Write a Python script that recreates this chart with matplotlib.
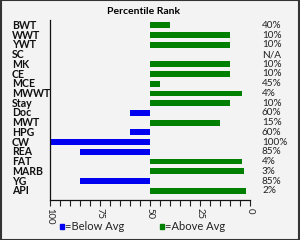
import matplotlib
matplotlib.use("Agg")
import matplotlib.pyplot as plt
from matplotlib.patches import Rectangle
from matplotlib.ticker import MultipleLocator

plt.rcParams["font.family"] = ["Lato", "DejaVu Sans"]

traits = ["BWT", "WWT", "YWT", "SC", "MK", "CE", "MCE", "MWWT", "Stay",
          "Doc", "MWT", "HPG", "CW", "REA", "FAT", "MARB", "YG", "API"]
ranks = [40, 10, 10, None, 10, 10, 45, 4, 10,
         60, 15, 60, 100, 85, 4, 3, 85, 2]
rank_labels = ["40%", "10%", "10%", "N/A", "10%", "10%", "45%", "4%", "10%",
               "60%", "15%", "60%", "100%", "85%", "4%", "3%", "85%", "2%"]

GREEN = "#008000"
BLUE = "#0000f0"
AVG = 50

fig = plt.figure(figsize=(3.0, 2.4), dpi=100, facecolor="#f3f3f3")
fig.patches.append(Rectangle((0.002, 0.002), 0.996, 0.996, transform=fig.transFigure,
                             fill=False, edgecolor="#333333", linewidth=1.5))
ax = fig.add_axes([50 / 300, 40 / 240, 200 / 300, 180 / 240])
ax.set_facecolor("#f3f3f3")

for i, (name, v, lab) in enumerate(zip(traits, ranks, rank_labels)):
    if v is not None:
        color = BLUE if v > AVG else GREEN
        ax.barh(i, v - AVG, left=AVG, height=0.6, color=color)
    ax.text(-6, i, lab, ha="left", va="center", fontsize=7.2,
            color="#222222", clip_on=False)
    ax.text(119, i, name, ha="left", va="center", fontsize=7.6,
            fontweight="bold", color="#111111", clip_on=False)

ax.set_xlim(100, 0)
ax.set_ylim(len(traits) - 0.5 + 0.45, -0.55)
ax.xaxis.set_major_locator(MultipleLocator(25))
ax.xaxis.set_minor_locator(MultipleLocator(5))
ax.tick_params(axis="x", which="both", direction="out", length=4, width=0.8,
               labelsize=6.8, labelrotation=-90, pad=2, colors="#222222")
ax.set_yticks([])
for s in ["top", "right"]:
    ax.spines[s].set_visible(False)
for s in ["left", "bottom"]:
    ax.spines[s].set_color("#111111")
    ax.spines[s].set_linewidth(0.9)

fig.text(0.48, 0.95, "Percentile Rank", ha="center", va="center", fontsize=7.5, fontweight="bold")

fig.patches.append(Rectangle((60 / 300, 11.5 / 240), 4 / 300, 5 / 240, transform=fig.transFigure,
                             color=BLUE))
fig.text(65 / 300, 13.5 / 240, "=Below Avg", ha="left", va="center", fontsize=8, color="#222222")
fig.patches.append(Rectangle((160 / 300, 11.5 / 240), 4 / 300, 5 / 240, transform=fig.transFigure,
                             color=GREEN))
fig.text(165 / 300, 13.5 / 240, "=Above Avg", ha="left", va="center", fontsize=8, color="#222222")

fig.savefig("out.png", dpi=100, facecolor=fig.get_facecolor())
